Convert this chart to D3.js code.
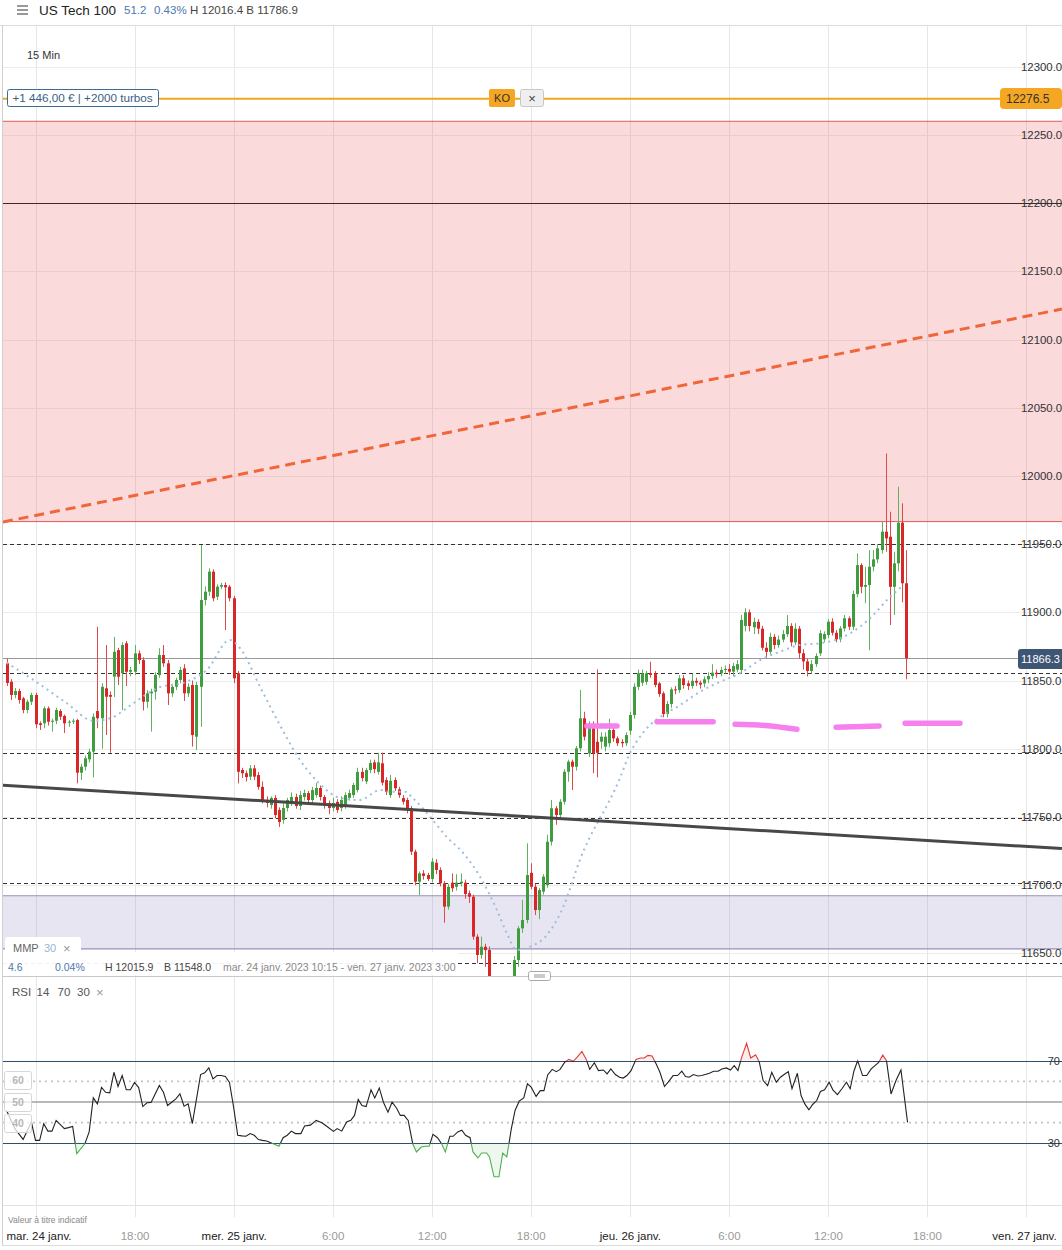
<!DOCTYPE html>
<html><head><meta charset="utf-8">
<script src="https://cdn.jsdelivr.net/npm/d3@7/dist/d3.min.js"></script>
<style>
body{margin:0;background:#fff;overflow:hidden;}
svg{display:block;font-family:"Liberation Sans",Arial,sans-serif;}
</style></head><body>
<svg id="c" width="1062" height="1250"></svg>
<script>
// ---------- DATA ----------
const startTime = Date.UTC(2023,0,24,10,15); // first 15-min candle
// candles: [open, high, low, close]
const ohlc = [
[11862.8,11866,11846,11848.2],[11849.1,11851,11835.7,11839.4],[11839.4,11844.5,11837,11842.3],[11842.3,11844,11833,11835.7],
[11836.9,11838,11826,11828.4],[11828.4,11836,11826,11834.4],[11834.4,11841,11832,11839.4],[11839.4,11841,11815,11817.9],
[11818.6,11820,11813.7,11817.4],[11818.6,11831,11815,11829.6],[11829.6,11831,11817,11819.8],[11819.8,11822,11812.5,11820.5],
[11820.5,11830,11818,11828.4],[11827.6,11829,11821,11823.5],[11824,11825,11811.5,11818.6],[11819.1,11821,11816,11819.8],
[11819.8,11822,11818,11820.5],[11821,11822,11774.6,11782.4],[11782.4,11789,11777,11786.8],[11786.8,11795,11784,11793],
[11792.2,11800,11790,11797.8],[11797.8,11826,11779,11823.4],[11827.6,11889.4,11815,11822.3],[11822.3,11848,11800,11845.4],
[11844.3,11876,11810,11838.1],[11839.4,11842,11797,11838.1],[11852.8,11882,11838,11871.1],[11872.3,11874,11846.7,11852.8],
[11855.3,11878,11828.4,11876],[11877.3,11879,11846,11856.4],[11856.4,11860,11853,11857.7],[11856.4,11876,11854,11869.9],
[11869.9,11872,11862,11865],[11865,11867,11828,11834.4],[11834.4,11843,11830,11840.6],[11840.6,11844,11812.5,11841.8],
[11841.8,11856,11836,11854],[11854,11873.6,11852,11868.7],[11868.7,11876,11860,11862.6],[11862.6,11865,11832,11840.6],
[11840.6,11847,11838,11845.4],[11845.4,11852,11843,11850.4],[11850.4,11860,11848,11857.7],[11858.9,11862,11835,11840.6],
[11840.6,11848,11838,11845.4],[11846.7,11850,11801.5,11810],[11808.8,11849,11799,11846.7],[11845.4,11949.3,11816,11909],
[11909,11919,11905,11915.1],[11915.1,11932.2,11912,11929.8],[11929.8,11931.5,11908,11910.3],[11911.4,11920.5,11909,11918.8],
[11918.8,11921.5,11917,11920],[11920,11922,11887,11918.3],[11918.8,11920,11908,11910.3],[11910.3,11912,11848,11851.6],
[11855.3,11857,11774.6,11783.1],[11784.4,11786,11778.5,11782],[11782,11784,11776,11779.2],[11779.5,11788,11777,11785.6],
[11785.6,11788,11777,11779.5],[11780.7,11783,11770,11772],[11772,11776,11760,11762.4],[11762.4,11765,11757,11760.2],
[11758.7,11765,11756,11763.9],[11763.9,11766,11749,11751.4],[11755.1,11757,11742.6,11746.3],[11747.8,11760,11745,11756.5],
[11756.5,11764,11754,11762.4],[11760.2,11768,11758,11764.6],[11764.6,11767,11756,11758],[11758,11769,11755,11766],
[11764.6,11770,11762,11767.5],[11767.5,11769,11760,11762.4],[11762.4,11772,11760,11769.7],[11766,11774.8,11764,11771.2],
[11771.2,11773,11762,11764.6],[11764.6,11766,11756,11758.7],[11760,11762,11752,11756.5],[11756.5,11764,11754,11760.2],
[11761,11763,11753,11755.1],[11756.5,11765,11754,11762.4],[11758.7,11768,11756,11766],[11764,11770,11762,11767.5],
[11766,11775,11764,11773.4],[11769.7,11786,11768,11783],[11783,11786,11776,11778.5],[11776,11786,11774,11784.4],
[11784.4,11792,11782,11789.5],[11790,11792,11782,11785],[11783,11797,11781,11790],[11789.3,11797.1,11773,11775.1],
[11777,11779,11766,11768.5],[11766,11780.7,11764,11776.5],[11777,11779,11769,11771],[11770.2,11772,11764,11766],
[11763.8,11766,11759,11761.1],[11762.4,11764,11752.6,11756.3],[11756.3,11758,11722,11724.5],[11724.5,11726,11700,11702.5],
[11702.5,11710,11692.7,11708.6],[11708.6,11711,11704,11706.7],[11707.4,11709,11703,11704.5],[11704.5,11719.9,11702,11717.2],
[11716.4,11719,11708,11711.1],[11711.1,11713,11699,11701.3],[11701.3,11703,11672.4,11684.2],[11684.2,11701,11682,11698.8],
[11701.8,11708.6,11695,11697.7],[11698.8,11708,11696,11701.8],[11701.3,11708.6,11699,11702.5],[11701.8,11704,11690,11693.5],
[11694,11696,11686.9,11691.5],[11691.5,11693,11660,11662.2],[11662.2,11664,11642.7,11648.8],[11648.8,11662.2,11646,11654.8],
[11654.8,11657,11640,11652.4],[11652.4,11655,11605,11612],[11612,11615,11565,11572],[11572,11580,11548,11562],
[11562,11592,11556,11588],[11588,11594,11578,11583],[11583,11625,11580,11620],[11620,11648,11615,11645],
[11645,11670,11640,11668.3],[11668.3,11689.2,11665,11674.4],[11674.4,11730.6,11672,11707.4],[11709,11716,11697,11698.8],
[11698.8,11701,11678,11681.7],[11681.7,11698,11675,11696.4],[11695.2,11708,11693,11706.2],[11700,11737,11698,11731.8],
[11731.8,11762.4,11729,11756.3],[11756.3,11758,11744.2,11751.4],[11751.4,11763,11749,11761.1],[11761.1,11785,11759,11783.1],
[11783.1,11792,11775.8,11790.5],[11790.5,11792,11769.7,11786.8],[11786.8,11802,11784,11800.3],[11800.3,11843,11798,11822.3],
[11822.3,11827.1,11806,11808.8],[11796.6,11820,11794,11817.4],[11817.4,11820,11782,11796.6],[11805,11858.2,11779,11797],
[11805.1,11812,11800,11808.8],[11801.5,11812,11798,11808.8],[11804,11822,11801,11813.7],[11813.7,11816,11805,11807.6],
[11807.6,11809,11802,11804],[11805,11807,11801,11804],[11804,11812,11802,11810],[11813.2,11827,11810,11824.7],
[11824.7,11848,11822,11845.4],[11845.4,11858,11843,11855.3],[11848.4,11858,11846,11855.3],[11849,11857,11847,11855.3],
[11855.3,11863.8,11852,11854],[11855.3,11857,11845,11846.7],[11847.9,11849,11838,11840.1],[11840.6,11842,11823,11825.4],
[11825.4,11835,11823,11832.8],[11832.8,11845,11830,11843.5],[11843.5,11846,11840,11842.8],[11843,11854,11841,11851.6],
[11851.6,11854,11844,11846.7],[11847.9,11850,11843,11846],[11846,11855,11844,11849.8],[11849.8,11852,11846,11848.4],
[11848.4,11850,11844,11847],[11847.9,11853,11845,11850.9],[11850.9,11856,11848,11853.3],[11853.3,11862,11851,11855.7],
[11855.7,11858,11852,11854.6],[11855.3,11860,11853,11857.7],[11857.7,11861,11855,11858.5],[11858.5,11862,11854,11856.5],
[11856.5,11863,11853,11860.6],[11858,11865,11856,11862],[11857.7,11898,11855,11894.4],[11890,11903,11886,11900],
[11900,11902,11886,11890],[11889,11896,11884,11893],[11893,11895,11884,11888],[11888,11890,11872,11874],
[11874,11878,11866,11871],[11871,11885,11869,11882],[11882,11884,11873,11876],[11876,11883,11874,11880],
[11880,11887,11878,11884],[11884,11898,11882,11890],[11890,11892,11875,11878],[11878,11892,11876,11888],
[11888,11890,11866,11870],[11870,11873,11858,11864],[11864,11866,11853,11857],[11857,11865,11855,11862],
[11862,11870,11860,11868],[11869.9,11887,11868,11884.6],[11880.2,11886,11878,11884.1],[11883.3,11895,11881,11893.1],
[11893.1,11895.6,11883,11885],[11885,11887,11878,11880.2],[11880.2,11890,11878,11888.2],[11888.2,11898,11886,11895.6],
[11895.6,11897,11887,11889.4],[11889.4,11916,11887,11913.4],[11913.4,11943.2,11911,11934.6],[11934.6,11936,11913.9,11918.7],
[11918.7,11933.4,11906.6,11920],[11920,11945.6,11872.3,11933.4],[11933.4,11945.6,11930,11938.8],[11938.8,11950,11936,11946.9],
[11945.6,11966.4,11943,11959.1],[11959.1,12016.4,11944.4,11954.2],[11955.4,11973.7,11890.7,11918.7],[11918.7,11944.4,11898,11935.9],
[11935.9,11992,11930,11965.7],[11965.7,11979.9,11907.3,11921.3],[11921.3,11945.6,11850.9,11866.3]
];
// moving average MMP 30: [candle index, price]
const mmp = [[0,11863],[6.5,11850.4],[14.6,11833.3],[21,11820.5],[25.1,11822.3],[30.7,11833.3],[36.4,11844.3],
[43.6,11849.1],[48.5,11857.7],[54.1,11879.7],[56.6,11873.6],[61.4,11845.4],[66.2,11817.4],[71.1,11791.7],
[75.9,11774.1],[80.8,11763.9],[85.6,11762.4],[90.5,11769.7],[92.9,11768.5],[96.5,11768.5],[98.5,11763.6],
[102.6,11750.1],[106.6,11735.5],[110.7,11723.3],[114.7,11706.2],[118.8,11681.7],[121.2,11664.7],[123.6,11652.4],
[126.8,11654.8],[130.9,11663.4],[134.9,11684.2],[138.9,11718.4],[148.6,11778.3],[151,11796.6],[153.5,11808.8],
[155.9,11817.4],[159.1,11824.7],[163.2,11832],[168,11841.8],[172.9,11849.1],[177.7,11855.3],[182.6,11865],
[187.4,11871.1],[192.2,11876],[197.1,11877.3],[201.9,11880.9],[206.8,11889.4],[210,11898],[213.3,11909],[217.3,11920]];
// RSI 14: [candle index, value]
const rsi = [[0,45.9],[2,37.1],[4,31.9],[6,40.3],[7,31.4],[8,31.4],[9,39.5],[10,35.9],[11,35.9],[12,41.1],[14,37.1],
[15,37.6],[16,38.2],[17,25.0],[19,29.9],[20,35.5],[21,52.0],[22,49.1],[23,57.1],[24,54.7],[25,54.4],[26,64.4],
[27,57.5],[28,62.8],[29,55.9],[30,55.9],[31,59.5],[32,57.0],[33,47.8],[34,49.6],[35,49.8],[37,58.0],[38,54.7],
[39,48.3],[40,49.9],[41,51.5],[42,53.9],[43,48.0],[44,49.1],[45,39.5],[47,63.3],[48,64.1],[49,66.5],[50,61.2],
[51,62.8],[52,62.8],[53,62.4],[54,59.5],[55,47.5],[56,33.9],[57,33.6],[58,33.4],[59,34.7],[60,33.9],[61,31.8],
[62,31.4],[63,31.1],[64,30.3],[66,28.6],[67,32.7],[68,33.9],[69,35.9],[70,34.7],[71.3,34.7],[72.2,38.4],
[73.6,38.8],[75,41.1],[76.4,39.9],[77.8,37.9],[79.2,35.8],[80.1,37.1],[81.2,35.9],[82.4,40.3],[83.4,41.1],
[84.3,43.5],[85.2,51.2],[86.1,48.3],[87.1,47.8],[88.3,55.9],[89.2,52.0],[90.3,56.8],[91.3,49.9],[92.4,45.1],
[93.4,49.9],[94.5,47.0],[95.4,43.5],[96.3,43.5],[97.3,41.1],[98.4,29.8],[99.3,25.8],[100.5,28.2],[101.5,28.6],
[102.4,28.6],[103.3,34.3],[104.4,32.7],[105.4,29.8],[106.3,25.8],[107.4,33.4],[108.2,33.4],[109.3,35.5],
[110.3,36.3],[111.2,33.9],[112.3,32.7],[113,25.8],[114.2,22.9],[115.1,25.3],[116.3,25.3],[117,23.4],[118.1,13.8],
[119.3,13.8],[120.2,25.3],[121.2,23.4],[122.3,37.1],[123.2,45.9],[124.2,50.4],[125.3,52.0],[126.2,58.8],
[127.1,57.2],[128.3,52.7],[129.3,55.5],[130.2,55.5],[131.1,63.1],[132.2,65.8],[133.2,64.7],[134.1,65.8],
[135.2,69.2],[136.2,70.6],[137.3,69.7],[138.3,71.9],[139.4,74.5],[140.4,70.8],[141.3,65.8],[142.4,69.0],
[143.4,65.2],[144.6,65.5],[145.5,63.6],[146.4,66.0],[147.5,63.3],[148.5,62.0],[149.4,61.6],[150.3,62.8],
[151.3,65.2],[152.5,70.6],[153.6,71.3],[154.5,71.3],[155.4,72.6],[156.4,72.3],[157.4,68.4],[158.3,64.4],
[159.4,57.5],[160.3,59.6],[161.5,62.8],[162.6,62.8],[163.6,64.9],[164.5,62.3],[165.4,62.0],[166.4,63.3],
[167.5,62.6],[168.4,62.8],[169.3,63.3],[170.3,63.9],[171.3,64.9],[172.4,64.9],[173.3,66.0],[174.4,66.5],
[175.4,65.5],[176.3,67.6],[177.2,65.2],[178.1,71.6],[179.3,78.4],[180.3,71.3],[181.5,72.9],[182.4,69.2],
[183.3,60.4],[184.4,57.9],[185.4,64.4],[186.5,59.6],[187.5,62.0],[188.4,63.3],[189.4,64.7],[190.3,56.4],
[191.6,63.9],[192.5,53.1],[193.4,49.1],[194.4,46.2],[195.3,48.8],[196.3,50.7],[197.2,55.1],[198.2,55.9],
[199.3,59.6],[200.2,55.9],[201.3,53.6],[202.4,56.4],[203.5,59.6],[204.4,56.4],[205.3,64.9],[206.2,70.0],
[207.4,62.8],[208.4,62.8],[209.5,66.0],[210.4,67.6],[211.3,69.2],[212.3,72.7],[213.2,70.0],[214.3,53.9],
[215.5,60.4],[216.7,65.5],[218.3,40.1]];
// axes
const priceTicks = [11650,11700,11750,11800,11850,11900,11950,12000,12050,12100,12150,12200,12250,12300];
const timeTicks = ["2023-01-24T12:00Z","2023-01-24T18:00Z","2023-01-25T00:00Z","2023-01-25T06:00Z","2023-01-25T12:00Z",
 "2023-01-25T18:00Z","2023-01-26T00:00Z","2023-01-26T06:00Z","2023-01-26T12:00Z","2023-01-26T18:00Z","2023-01-27T00:00Z"];
const timeLabels = ["mar. 24 janv.","18:00","mer. 25 janv.","6:00","12:00","18:00","jeu. 26 janv.","6:00","12:00","18:00","ven. 27 janv."];
const timeIsDate = [1,0,1,0,0,0,1,0,0,0,1];
// levels and drawings
const dashedLevels = [11949.8,11855.3,11796.6,11749,11701.3,11642.7];
const redZone = [11966.5,12260];
const purpleZone = [11653.2,11692.2];
const solidLevel = 12200;
const koLevel = 12276.5;
const lastPrice = 11866.3;
const blackTrend = [[-0.9,11773.2],[255.7,11726.8]];
const orangeTrend = [[-0.9,11966.2],[255.7,12122.3]];
const pinkMarks = [
 [[140.6,11816.6],[147.9,11816.6]],
 [[157.6,11819.8],[171.2,11819.8]],
 [[176.5,11817.9],[183.8,11817],[191.5,11814.2]],
 [[201,11815.7],[211.4,11816.6]],
 [[217.7,11818.6],[231,11818.6]]];
const rsiLevels = {hi:70, lo:30, mid:50, dots:[60,40]};

// ---------- SCALES ----------
const svg = d3.select("#c");
const W = 1062;
const x = d3.scaleTime().domain([new Date("2023-01-24T12:00Z"), new Date("2023-01-27T00:00Z")]).range([35.5, 1026]);
const xi = i => x(new Date(startTime + i*900000));
const y = d3.scaleLinear().domain([11650,12300]).range([953.3,66.7]);
const yr = d3.scaleLinear().domain([30,70]).range([1143.3,1060.7]);
const mainTop = 26, mainBot = 976, rsiTop = 977, rsiBot = 1205;

const defs = svg.append("defs");
defs.append("clipPath").attr("id","mainClip").append("rect").attr("x",3).attr("y",mainTop).attr("width",W-3).attr("height",mainBot-mainTop);
defs.append("clipPath").attr("id","rsiHi").append("rect").attr("x",3).attr("y",rsiTop).attr("width",W).attr("height",yr(70)-rsiTop);
defs.append("clipPath").attr("id","rsiMid").append("rect").attr("x",3).attr("y",yr(70)).attr("width",W).attr("height",yr(30)-yr(70));
defs.append("clipPath").attr("id","rsiLo").append("rect").attr("x",3).attr("y",yr(30)).attr("width",W).attr("height",rsiBot-yr(30));

// ---------- HEADER ----------
const hdr = svg.append("g");
[6,10,14].forEach(v=>hdr.append("line").attr("x1",17).attr("x2",28).attr("y1",v).attr("y2",v).attr("stroke","#555").attr("stroke-width",1.2));
hdr.append("text").attr("x",39).attr("y",14.5).attr("font-size",13.5).attr("fill","#222").text("US Tech 100");
hdr.append("text").attr("x",124).attr("y",14).attr("font-size",11.5).attr("fill","#4a78b0").text("51.2");
hdr.append("text").attr("x",154).attr("y",14).attr("font-size",11.5).attr("fill","#4a78b0").text("0.43%");
hdr.append("text").attr("x",190).attr("y",14).attr("font-size",11.5).attr("fill","#444").text("H 12016.4  B 11786.9");
svg.append("line").attr("x1",0).attr("x2",W).attr("y1",25.5).attr("y2",25.5).attr("stroke","#dcdcdc");
svg.append("line").attr("x1",2.5).attr("x2",2.5).attr("y1",25).attr("y2",1246).attr("stroke","#d0d0d0");

// ---------- GRID ----------
const grid = svg.append("g");
timeTicks.forEach(t=>grid.append("line").attr("x1",Math.round(x(new Date(t)))+0.5).attr("x2",Math.round(x(new Date(t)))+0.5)
  .attr("y1",mainTop).attr("y2",1217).attr("stroke","#e6e6e6"));
priceTicks.forEach(p=>grid.append("line").attr("x1",3).attr("x2",W).attr("y1",Math.round(y(p))+0.5).attr("y2",Math.round(y(p))+0.5)
  .attr("stroke","#ececec"));

// ---------- MAIN PANEL ----------
const main = svg.append("g").attr("clip-path","url(#mainClip)");
main.append("rect").attr("x",3).attr("width",W).attr("y",y(redZone[1])).attr("height",y(redZone[0])-y(redZone[1])).attr("fill","rgba(240,100,110,0.24)");
[redZone[0],redZone[1]].forEach(p=>main.append("line").attr("x1",3).attr("x2",W).attr("y1",y(p)).attr("y2",y(p)).attr("stroke","#e05a5a").attr("stroke-width",1));
main.append("rect").attr("x",3).attr("width",W).attr("y",y(purpleZone[1])).attr("height",y(purpleZone[0])-y(purpleZone[1])).attr("fill","rgba(160,150,200,0.25)");
[purpleZone[0],purpleZone[1]].forEach(p=>main.append("line").attr("x1",3).attr("x2",W).attr("y1",y(p)).attr("y2",y(p)).attr("stroke","#9a90bb").attr("stroke-width",1.2));
main.append("line").attr("x1",3).attr("x2",W).attr("y1",Math.round(y(solidLevel))+0.5).attr("y2",Math.round(y(solidLevel))+0.5).attr("stroke","#3a2a2a");
dashedLevels.forEach(p=>main.append("line").attr("x1",3).attr("x2",W).attr("y1",Math.round(y(p))+0.5).attr("y2",Math.round(y(p))+0.5)
  .attr("stroke","#333").attr("stroke-dasharray","4,3"));
main.append("line").attr("x1",3).attr("x2",1018).attr("y1",Math.round(y(lastPrice))+0.5).attr("y2",Math.round(y(lastPrice))+0.5).attr("stroke","#9a9a9a");

// candles
const cg = main.append("g");
ohlc.forEach((d,i)=>{
  const [o,h,l,c] = d; const up = c>=o;
  const cx = xi(i);
  const wx = Math.round(cx)+0.5;
  cg.append("line").attr("x1",wx).attr("x2",wx).attr("y1",y(Math.max(h,o,c))).attr("y2",y(Math.min(l,o,c)))
    .attr("stroke",up?"#5fb35f":"#de4a4a").attr("stroke-width",1);
  const top = y(Math.max(o,c)), bot = y(Math.min(o,c));
  cg.append("rect").attr("x",Math.round(cx)-1).attr("width",3).attr("y",top).attr("height",Math.max(1,bot-top))
    .attr("fill",up?"#3f9d3f":"#d92626");
});
// moving average
main.append("path").datum(mmp).attr("fill","none").attr("stroke","#9fbedc").attr("stroke-width",2).attr("stroke-dasharray","2,4")
  .attr("d",d3.line().x(d=>xi(d[0])).y(d=>y(d[1])).curve(d3.curveMonotoneX));
// drawings
const lineXY = d3.line().x(d=>xi(d[0])).y(d=>y(d[1]));
main.append("path").datum(blackTrend).attr("d",lineXY).attr("stroke","#484848").attr("stroke-width",3).attr("fill","none");
main.append("path").datum(orangeTrend).attr("d",lineXY).attr("stroke","#f0663a").attr("stroke-width",3).attr("stroke-dasharray","10,6").attr("fill","none");
pinkMarks.forEach(m=>main.append("path").datum(m).attr("d",lineXY.curve(d3.curveMonotoneX)).attr("stroke","#f680ee").attr("stroke-width",5.5)
  .attr("stroke-linecap","round").attr("fill","none"));

// KO line
main.append("line").attr("x1",3).attr("x2",1000).attr("y1",y(koLevel)).attr("y2",y(koLevel)).attr("stroke","#f2a81d").attr("stroke-width",2);
// turbo box
svg.append("rect").attr("x",7.5).attr("y",89.5).attr("width",151).attr("height",17).attr("rx",2).attr("fill","#fff").attr("stroke","#3d6b93");
svg.append("text").attr("x",12.5).attr("y",102).attr("font-size",11.7).attr("fill","#3a5f85").text("+1 446,00 € | +2000 turbos");
svg.append("rect").attr("x",489).attr("y",89).attr("width",26).attr("height",18).attr("rx",2).attr("fill","#f5a623");
svg.append("text").attr("x",502).attr("y",102).attr("text-anchor","middle").attr("font-size",11).attr("fill","#333").text("KO");
svg.append("rect").attr("x",520.5).attr("y",89.5).attr("width",23).attr("height",17).attr("rx",2).attr("fill","#efefef").attr("stroke","#c8c8c8");
svg.append("text").attr("x",532).attr("y",102.5).attr("text-anchor","middle").attr("font-size",13).attr("fill","#444").text("×");
svg.append("rect").attr("x",1000).attr("y",88).attr("width",62).attr("height",21).attr("rx",4).attr("fill","#f5a623");
svg.append("text").attr("x",1006).attr("y",102.5).attr("font-size",12).attr("fill","#333").text("12276.5");
svg.append("text").attr("x",27).attr("y",59).attr("font-size",11).attr("fill","#333").text("15 Min");

// price axis
const yAxis = svg.append("g").attr("transform","translate(1021,0)")
  .call(d3.axisRight(y).tickValues(priceTicks).tickFormat(d=>d.toFixed(1)).tickSize(0).tickPadding(0));
yAxis.select(".domain").remove();
yAxis.selectAll("text").attr("font-size",11.4).attr("fill","#333").attr("font-family","Liberation Sans, Arial, sans-serif");
// last price label
svg.append("rect").attr("x",1018).attr("y",649).attr("width",48).attr("height",20).attr("rx",3).attr("fill","#3e5673");
svg.append("text").attr("x",1021).attr("y",663).attr("font-size",11).attr("fill","#fff").text(lastPrice.toFixed(1));

// MMP tab + info row
svg.append("rect").attr("x",3).attr("y",952).attr("width",455).attr("height",23.5).attr("fill","#fff").attr("opacity",0.92);
svg.append("rect").attr("x",5).attr("y",937).attr("width",76).attr("height",18).attr("rx",3).attr("fill","#fff");
svg.append("text").attr("x",13).attr("y",952).attr("font-size",11).attr("fill","#666").text("MMP");
svg.append("text").attr("x",44).attr("y",952).attr("font-size",11).attr("fill","#95b5d5").text("30");
svg.append("text").attr("x",63).attr("y",952.5).attr("font-size",13).attr("fill","#999").text("×");
const info = svg.append("g").attr("font-size",10.5);
info.append("text").attr("x",8).attr("y",971).attr("fill","#4a78b0").text("4.6");
info.append("text").attr("x",55).attr("y",971).attr("fill","#4a78b0").text("0.04%");
info.append("text").attr("x",105).attr("y",971).attr("fill","#444").text("H 12015.9");
info.append("text").attr("x",164).attr("y",971).attr("fill","#444").text("B 11548.0");
info.append("text").attr("x",223).attr("y",971).attr("fill","#888").text("mar. 24 janv. 2023 10:15 - ven. 27 janv. 2023 3:00");
svg.append("line").attr("x1",3).attr("x2",W).attr("y1",mainBot+0.5).attr("y2",mainBot+0.5).attr("stroke","#c8c8c8");
svg.append("rect").attr("x",528.5).attr("y",971.5).attr("width",22).attr("height",9).attr("rx",2).attr("fill","#fff").attr("stroke","#aaa");
[975,977].forEach(v=>svg.append("line").attr("x1",534).attr("x2",545).attr("y1",v).attr("y2",v).attr("stroke","#999"));

// ---------- RSI PANEL ----------
const rg = svg.append("g");
const rsiLabel = [["RSI",12,"#555"],["14",36.5,"#555"],["70",57.5,"#555"],["30",77,"#555"]];
rsiLabel.forEach(([t,px,col])=>rg.append("text").attr("x",px).attr("y",996).attr("font-size",11.5).attr("fill",col).text(t));
rg.append("text").attr("x",96).attr("y",996.5).attr("font-size",13).attr("fill","#999").text("×");
[rsiLevels.hi,rsiLevels.lo].forEach(v=>rg.append("line").attr("x1",3).attr("x2",W).attr("y1",Math.round(yr(v))+0.5).attr("y2",Math.round(yr(v))+0.5).attr("stroke","#2f4d6d"));
rg.append("line").attr("x1",3).attr("x2",W).attr("y1",yr(rsiLevels.mid)).attr("y2",yr(rsiLevels.mid)).attr("stroke","#a0a0a0").attr("stroke-width",1.6);
rsiLevels.dots.forEach(v=>rg.append("line").attr("x1",3).attr("x2",W).attr("y1",yr(v)).attr("y2",yr(v)).attr("stroke","#c4c4c4").attr("stroke-width",1.6).attr("stroke-dasharray","2,4"));
const rLine = d3.line().x(d=>xi(d[0])).y(d=>yr(d[1]));
rg.append("path").datum(rsi).attr("clip-path","url(#rsiLo)").attr("fill","rgba(90,180,90,0.10)")
  .attr("d",d3.area().x(d=>xi(d[0])).y0(yr(30)).y1(d=>yr(d[1])));
rg.append("path").datum(rsi).attr("clip-path","url(#rsiHi)").attr("fill","rgba(230,80,80,0.10)")
  .attr("d",d3.area().x(d=>xi(d[0])).y0(yr(70)).y1(d=>yr(d[1])));
rg.append("path").datum(rsi).attr("clip-path","url(#rsiMid)").attr("fill","none").attr("stroke","#222").attr("stroke-width",1.1).attr("d",rLine);
rg.append("path").datum(rsi).attr("clip-path","url(#rsiLo)").attr("fill","none").attr("stroke","#4caf50").attr("stroke-width",1.1).attr("d",rLine);
rg.append("path").datum(rsi).attr("clip-path","url(#rsiHi)").attr("fill","none").attr("stroke","#e53935").attr("stroke-width",1.1).attr("d",rLine);
// left labels
[[60,1071,1089],[50,1093,1111],[40,1114,1132]].forEach(([v,a,b])=>{
  rg.append("rect").attr("x",4.5).attr("y",a+0.5).attr("width",27).attr("height",b-a).attr("rx",2).attr("fill","#fff").attr("fill-opacity",0.75).attr("stroke","#d6d6d6");
  rg.append("text").attr("x",18).attr("y",(a+b)/2+4).attr("text-anchor","middle").attr("font-size",10.5).attr("font-weight","bold").attr("fill","#b8b8b8").text(v);
});
rg.append("text").attr("x",1060).attr("y",yr(70)+4).attr("text-anchor","end").attr("font-size",11).attr("fill","#333").text("70");
rg.append("text").attr("x",1060).attr("y",yr(30)+4).attr("text-anchor","end").attr("font-size",11).attr("fill","#333").text("30");

// bottom
svg.append("line").attr("x1",3).attr("x2",W).attr("y1",1205.5).attr("y2",1205.5).attr("stroke","#e2e2e2");
svg.append("line").attr("x1",3).attr("x2",W).attr("y1",1245.5).attr("y2",1245.5).attr("stroke","#dcdcdc");
svg.append("text").attr("x",8).attr("y",1223).attr("font-size",8.5).attr("fill","#888").text("Valeur à titre indicatif");
const xAxis = svg.append("g").attr("transform","translate(0,1229)")
  .call(d3.axisBottom(x).tickValues(timeTicks.map(t=>new Date(t))).tickFormat((d,i)=>timeLabels[i]).tickSize(0).tickPadding(3));
xAxis.select(".domain").remove();
xAxis.selectAll("text").attr("font-size",11.5).attr("font-family","Liberation Sans, Arial, sans-serif")
  .attr("fill",(d,i)=>timeIsDate[i]?"#222":"#9a9a9a")
  .attr("dx",(d,i)=>i===0?3:(i===timeTicks.length-1?-2:0));
</script>
</body></html>
